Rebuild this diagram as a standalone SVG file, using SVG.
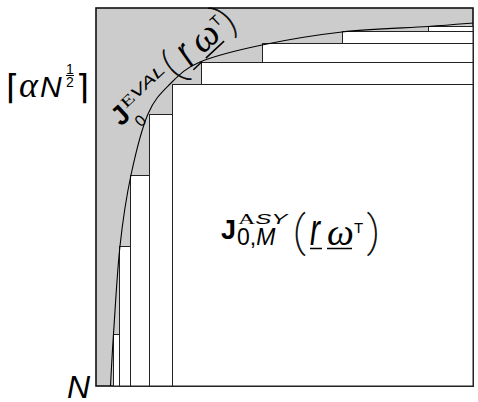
<svg xmlns="http://www.w3.org/2000/svg" width="478" height="402" viewBox="0 0 478 402">
<style>
.box{fill:#cccccc;stroke:#111;stroke-width:1.6}
.blk{fill:#fff;stroke:#222;stroke-width:1}
.curve{fill:none;stroke:#000;stroke-width:1.1}
.sans{font-family:"Liberation Sans",Arial,sans-serif;fill:#000}
.serif{font-family:"Liberation Serif","Times New Roman",serif;fill:#000}
.it{font-style:italic}
.bold{font-weight:bold}
.par{font-family:Roboto,"Liberation Sans",sans-serif;font-weight:100;fill:#000;stroke:#000;stroke-width:0.6}
.ul{stroke:#000;stroke-width:1.5}
.brk{font-family:"DejaVu Sans",sans-serif;fill:#000}
</style>
<g id="frame">
<rect class="box" x="96" y="8" width="377" height="378"/>
</g>
<g id="blocks">
<rect class="blk" x="428.5" y="26.5" width="44.5" height="359.5"/>
<rect class="blk" x="342.5" y="31.5" width="130.5" height="354.5"/>
<rect class="blk" x="262.5" y="43.5" width="210.5" height="342.5"/>
<rect class="blk" x="201.5" y="62.5" width="271.5" height="323.5"/>
<rect class="blk" x="113.5" y="334.5" width="359.5" height="51.5"/>
<rect class="blk" x="119.5" y="246.5" width="353.5" height="139.5"/>
<rect class="blk" x="130.5" y="175.5" width="342.5" height="210.5"/>
<rect class="blk" x="149.5" y="114.5" width="323.5" height="271.5"/>
<rect class="blk" x="172.5" y="84.5" width="300.5" height="301.5"/>
</g>
<g id="connectors">
<path class="curve" d="M110.5,386 C111,377.3 111.9,357.3 113.5,334 C115.1,310.7 117.1,272.5 120,246 C122.9,219.5 126.3,197 131,175 C135.7,153 141.5,129.2 148,114 C154.5,98.8 161.3,92.7 170,84 C178.7,75.3 184.7,68.5 200,62 C215.3,55.5 238.3,50 262,45 C285.7,40 314.3,35.1 342,32 C369.7,28.9 406.2,28 428,26.5 C449.8,25 465.5,23.6 473,23"/>
</g>
<g id="label-asy" transform="translate(221,239)">
<text class="sans bold" x="0" y="0" font-size="27">J</text>
<text transform="translate(17,-15) scale(1.6,1)" font-size="15"><tspan class="serif">A</tspan><tspan class="sans it">SY</tspan></text>
<text class="sans" x="16" y="6" font-size="23">0,<tspan class="it">M</tspan></text>
<text class="par" x="72" y="7" font-size="42">(</text>
<text class="sans it" transform="translate(89,6) scale(1,1.45)" font-size="30">r</text>
<line class="ul" x1="89" y1="9.5" x2="101" y2="9.5"/>
<text class="serif it" x="106" y="6" font-size="38">ω</text>
<line class="ul" x1="106" y1="9.5" x2="131" y2="9.5"/>
<text class="sans" x="133" y="-6" font-size="15">T</text>
<text class="par" x="146" y="7" font-size="42">)</text>
</g>
<g id="label-eval" transform="translate(121,127) rotate(-43)">
<text class="sans bold" x="0" y="0" font-size="27">J</text>
<text transform="translate(16,-10) scale(1.5,1)" font-size="15"><tspan class="serif">E</tspan><tspan class="sans it">VAL</tspan></text>
<text class="sans" x="14" y="14" font-size="16">0</text>
<text class="par" x="73" y="4" font-size="40">(</text>
<text class="sans it" transform="translate(92,4) scale(1,1.45)" font-size="30">r</text>
<line class="ul" x1="92" y1="7.5" x2="104" y2="7.5"/>
<text class="serif it" x="109" y="3" font-size="38">ω</text>
<line class="ul" x1="109" y1="7.5" x2="134" y2="7.5"/>
<text class="sans" x="137" y="-8" font-size="15">T</text>
<text class="par" x="144" y="4" font-size="40">)</text>
</g>
<g id="label-alpha">
<text class="brk" x="6" y="98.5" font-size="34">⌈</text>
<text class="serif it" x="19" y="97" font-size="36">α</text>
<text class="sans it" x="40" y="97" font-size="30">N</text>
<text class="sans" x="66" y="74" font-size="14">1</text>
<line x1="66" y1="75.5" x2="74" y2="75.5" stroke="#000" stroke-width="1"/>
<text class="sans" x="66" y="87" font-size="14">2</text>
<text class="brk" x="76" y="98.5" font-size="34">⌉</text>
</g>
<g id="label-n">
<text class="sans it" x="67" y="398" font-size="32">N</text>
</g>
</svg>
